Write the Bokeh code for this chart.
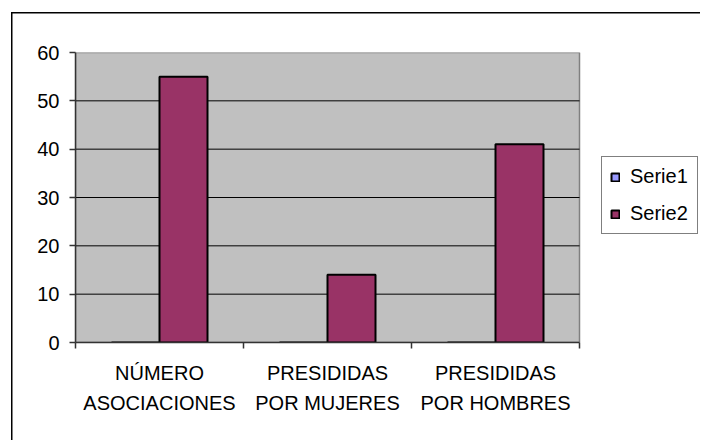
from bokeh.plotting import figure
from bokeh.models import Range1d, FixedTicker, Legend, LegendItem, ColumnDataSource
from bokeh.transform import dodge
from bokeh.embed import file_html
from bokeh.resources import INLINE

categories = ["NÚMERO\nASOCIACIONES", "PRESIDIDAS\nPOR MUJERES", "PRESIDIDAS\nPOR HOMBRES"]
serie1 = [0, 0, 0]
serie2 = [55, 14, 41]
y_ticks = [0, 10, 20, 30, 40, 50, 60]
series_names = ["Serie1", "Serie2"]
series_colors = ["#9999FF", "#993366"]

xpos = [i + 0.5 for i in range(len(categories))]
src = ColumnDataSource(dict(x=xpos, s1=serie1, s2=serie2))

FONT = "Liberation Sans"
CAT_PX = 168          # pixel width of one category slot
FRAME_W = 625         # frame extends under the legend area
n = len(categories)

p = figure(frame_width=FRAME_W, frame_height=290, output_backend="svg", toolbar_location=None,
           x_range=Range1d(0, FRAME_W / CAT_PX), y_range=Range1d(0, y_ticks[-1]),
           min_border_left=75, min_border_right=0, min_border_top=52, min_border_bottom=98)

p.background_fill_color = "white"
p.background_fill_alpha = 0
p.border_fill_color = "white"
p.border_fill_alpha = 0
p.outline_line_color = None
# outer chart-area border (top and left edges; right/bottom fall outside the picture)
p.styles = {
    "background": "linear-gradient(#000, #000) 11px 12px / 1.5px 100% no-repeat, "
                  "linear-gradient(#000, #000) 11px 12px / 100% 1.5px no-repeat, white"
}

# grey plot area and its horizontal gridlines (limited to the category span)
p.quad(left=0, right=n, bottom=y_ticks[0], top=y_ticks[-1], fill_color="#C0C0C0",
       line_color="#808080", line_width=1.5, level="image")
grid_y = y_ticks[1:-1]
p.segment(x0=[0] * len(grid_y), x1=[n] * len(grid_y), y0=grid_y, y1=grid_y,
          line_color="black", line_width=1, level="image")

bw = 48 / CAT_PX
r1 = p.vbar(x=dodge("x", -bw / 2, range=p.x_range), top="s1", width=bw, source=src,
            fill_color=series_colors[0], line_color="black", line_width=2)
r2 = p.vbar(x=dodge("x", bw / 2, range=p.x_range), top="s2", width=bw, source=src,
            fill_color=series_colors[1], line_color="black", line_width=2)

# axes
p.xaxis.bounds = (0, n)
p.xaxis.ticker = FixedTicker(ticks=xpos, minor_ticks=list(range(n + 1)))
p.xaxis.major_label_overrides = {x: c for x, c in zip(xpos, categories)}
p.xaxis.major_tick_out = 0
p.xaxis.major_tick_in = 0
p.xaxis.minor_tick_out = 6
p.xaxis.minor_tick_in = 0
p.xaxis.minor_tick_line_color = "#333333"
p.xaxis.minor_tick_line_width = 1.5
p.xaxis.axis_line_color = "#333333"
p.xaxis.axis_line_width = 1.5
p.xaxis.major_label_standoff = 13
p.xaxis.major_label_text_font = FONT
p.xaxis.major_label_text_font_size = "20px"
p.xaxis.major_label_text_color = "black"
p.xaxis.major_label_text_line_height = 1.4

p.yaxis.ticker = FixedTicker(ticks=y_ticks, minor_ticks=[])
p.yaxis.major_tick_out = 6
p.yaxis.major_tick_in = 0
p.yaxis.major_tick_line_color = "#333333"
p.yaxis.major_tick_line_width = 1.5
p.yaxis.axis_line_color = "#333333"
p.yaxis.axis_line_width = 1.5
p.yaxis.major_label_standoff = 10
p.yaxis.major_label_text_font = FONT
p.yaxis.major_label_text_font_size = "20px"
p.yaxis.major_label_text_color = "black"

p.xgrid.grid_line_color = None
p.ygrid.grid_line_color = None

legend = Legend(items=[LegendItem(label=series_names[0], renderers=[r1]),
                       LegendItem(label=series_names[1], renderers=[r2])],
                location=(526, 108))
legend.border_line_color = "black"
legend.border_line_width = 1
legend.background_fill_color = "white"
legend.background_fill_alpha = 1
legend.label_text_font = FONT
legend.label_text_font_size = "20px"
legend.label_text_color = "black"
legend.glyph_width = 10
legend.glyph_height = 10
legend.label_standoff = 10
legend.label_width = 59
legend.label_height = 20
legend.padding = 8
legend.spacing = 14
legend.margin = 0
p.add_layout(legend, "center")

open("out.html", "w").write(file_html(p, INLINE))
